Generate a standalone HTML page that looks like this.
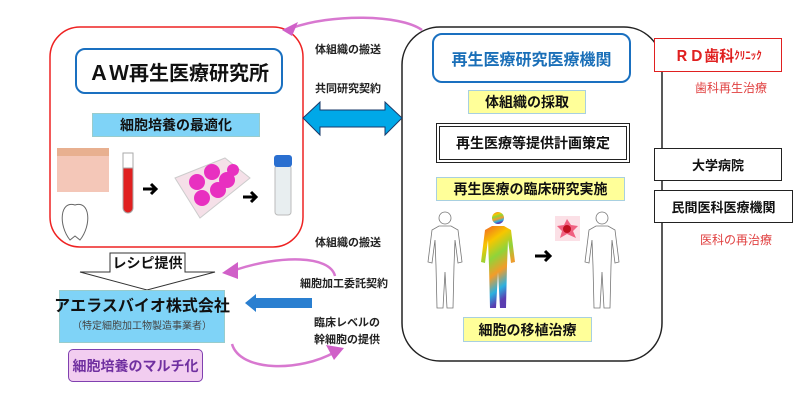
<!DOCTYPE html>
<html><head><meta charset="utf-8"><style>
body{margin:0;width:803px;height:402px;background:#fff;overflow:hidden;position:relative;font-family:"Liberation Sans","Noto Sans CJK JP",sans-serif;}
.a{position:absolute;box-sizing:border-box;display:flex;align-items:center;justify-content:center;font-weight:bold;color:#111;white-space:nowrap}
.l{position:absolute;font-size:11px;font-weight:bold;color:#222;white-space:nowrap;text-align:center}
</style></head><body>
<svg width="803" height="402" style="position:absolute;left:0;top:0">
<defs>
<linearGradient id="rb" x1="0" y1="0" x2="0.3" y2="1">
<stop offset="0" stop-color="#f05a28"/><stop offset="0.25" stop-color="#f7c600"/><stop offset="0.45" stop-color="#8fd43a"/><stop offset="0.65" stop-color="#f39c2a"/><stop offset="0.85" stop-color="#2ab0e0"/><stop offset="1" stop-color="#5a3db0"/></linearGradient>
<g id="hum"><circle cx="20" cy="8" r="6"/><path d="M14,16 L26,16 L33,20 L37,52 L33,53 L30,30 L29,56 L28,98 L22,98 L20,62 L18,98 L12,98 L11,56 L10,30 L7,53 L3,52 L7,20 Z"/></g>
</defs>
<rect x="50" y="27" width="253" height="220" rx="30" fill="none" stroke="#ee2222" stroke-width="1.5"/>
<rect x="402" y="27" width="260" height="334" rx="38" fill="none" stroke="#222" stroke-width="1.5"/>
<polygon points="303,118 320,102 320,110 385,110 385,102 402,118 385,135 385,127 320,127 320,135" fill="#00a8e8" stroke="#1a3a6a" stroke-width="1"/>
<path d="M422,30 C400,14 330,14 292,28" fill="none" stroke="#d878d0" stroke-width="2.5"/>
<polygon points="282,30 298,22 292,36" fill="#d060c8"/>
<path d="M335,276 C330,255 280,255 235,270" fill="none" stroke="#d878d0" stroke-width="2.5"/>
<polygon points="222,273 238,262 238,279" fill="#d060c8"/>
<path d="M232,344 C240,372 300,372 335,352" fill="none" stroke="#d878d0" stroke-width="2.5"/>
<polygon points="344,348 326,345 334,360" fill="#d060c8"/>
<polygon points="245,303 256,294 256,298 312,298 312,308 256,308 256,312" fill="#2a7fd0"/>
<polygon points="110,253 185,253 185,272 215,272 147,290 80,272 110,272" fill="#fff" stroke="#333" stroke-width="1"/>
<rect x="57" y="148" width="52" height="44" fill="#f4c7b8"/>
<rect x="57" y="148" width="52" height="8" fill="#e8b090"/>
<path d="M75,205 C60,200 58,225 70,240 L75,236 L80,240 C92,225 90,200 75,205Z" fill="none" stroke="#666"/>
<rect x="123" y="153" width="10" height="60" rx="5" fill="#e02020" stroke="#aaa"/>
<rect x="123" y="153" width="10" height="15" fill="#fff" stroke="#aaa"/>
<path d="M143,189 L156,189 M151,184 L156,189 L151,194" stroke="#000" stroke-width="3" fill="none"/>
<polygon points="175,178 225,158 250,178 200,218" fill="#f5e0e8" stroke="#ccc"/>
<g fill="#e830c0"><circle cx="197" cy="182" r="8"/><circle cx="212" cy="172" r="8"/><circle cx="227" cy="180" r="8"/><circle cx="202" cy="198" r="8"/><circle cx="218" cy="190" r="8"/><circle cx="233" cy="170" r="6"/></g>
<path d="M243,197 L256,197 M251,192 L256,197 L251,202" stroke="#000" stroke-width="3" fill="none"/>
<rect x="275" y="165" width="16" height="50" rx="3" fill="#e8eef0" stroke="#bbb"/>
<rect x="274" y="155" width="18" height="12" rx="3" fill="#2a6fd0"/>
<use href="#hum" x="425" y="210" fill="#fff" stroke="#777" stroke-width="0.8"/>
<use href="#hum" x="478" y="210" fill="url(#rb)"/>
<use href="#hum" x="582" y="210" fill="#fff" stroke="#777" stroke-width="0.8"/>
<rect x="555" y="216" width="25" height="25" fill="#fbe0e6"/>
<polygon points="567,219 571,225 578,226 573,231 576,238 567,234 560,238 562,231 557,226 564,225" fill="#f06080"/>
<circle cx="567" cy="229" r="4" fill="#c01020"/>
<path d="M535,256 L550,256 M545,251 L550,256 L545,261" stroke="#000" stroke-width="3" fill="none"/>
</svg>
<div class="a" style="left:75px;top:48px;width:208px;height:46px;border:2.5px solid #1a70c0;border-radius:10px;font-size:20px">ＡＷ再生医療研究所</div>
<div class="a" style="left:92px;top:113px;width:168px;height:24px;background:#7fd3f7;border:1px solid #9cc;font-size:14px">細胞培養の最適化</div>
<div class="a" style="left:432px;top:33px;width:199px;height:50px;border:2.5px solid #1a70c0;border-radius:10px;font-size:16px;color:#1a6fb8">再生医療研究医療機関</div>
<div class="a" style="left:468px;top:90px;width:118px;height:24px;background:#ffff99;border:1px solid #a8d0e0;font-size:14px">体組織の採取</div>
<div class="a" style="left:436px;top:123px;width:194px;height:40px;border:4px double #222;font-size:14px">再生医療等提供計画策定</div>
<div class="a" style="left:436px;top:177px;width:189px;height:24px;background:#ffff99;border:1px solid #a8d0e0;font-size:14px">再生医療の臨床研究実施</div>
<div class="a" style="left:463px;top:317px;width:129px;height:25px;background:#ffff99;border:1px solid #a8d0e0;font-size:14px">細胞の移植治療</div>
<div class="a" style="left:654px;top:38px;width:128px;height:34px;border:1.5px solid #e02020;font-size:15px;color:#e02020;background:#fff">ＲＤ歯科<span style="font-size:11px">ｸﾘﾆｯｸ</span></div>
<div class="l" style="left:695px;top:79px;font-size:12px;color:#e04040;font-weight:normal">歯科再生治療</div>
<div class="a" style="left:654px;top:148px;width:128px;height:33px;border:1.5px solid #222;font-size:13px;background:#fff">大学病院</div>
<div class="a" style="left:654px;top:190px;width:139px;height:33px;border:1.5px solid #222;font-size:13px;background:#fff">民間医科医療機関</div>
<div class="l" style="left:700px;top:231px;font-size:12px;color:#e04040;font-weight:normal">医科の再治療</div>
<div class="l" style="left:315px;top:41px">体組織の搬送</div>
<div class="l" style="left:315px;top:80px">共同研究契約</div>
<div class="l" style="left:315px;top:234px">体組織の搬送</div>
<div class="l" style="left:300px;top:275px">細胞加工委託契約</div>
<div class="l" style="left:314px;top:315px;line-height:17px">臨床レベルの<br>幹細胞の提供</div>
<div class="a" style="left:110px;top:255px;width:75px;height:16px;font-size:14px">レシピ提供</div>
<div class="a" style="left:59px;top:290px;width:166px;height:53px;background:#7fd3f7;border:1px solid #9cc;flex-direction:column;font-size:16px;line-height:20px">アエラスバイオ株式会社<span style="font-size:10px;font-weight:normal;color:#444">（特定細胞加工物製造事業者）</span></div>
<div class="a" style="left:68px;top:349px;width:135px;height:33px;background:#f2cdf0;border:1.5px solid #8040b0;border-radius:5px;font-size:14px;color:#7030a0">細胞培養のマルチ化</div>
</body></html>
